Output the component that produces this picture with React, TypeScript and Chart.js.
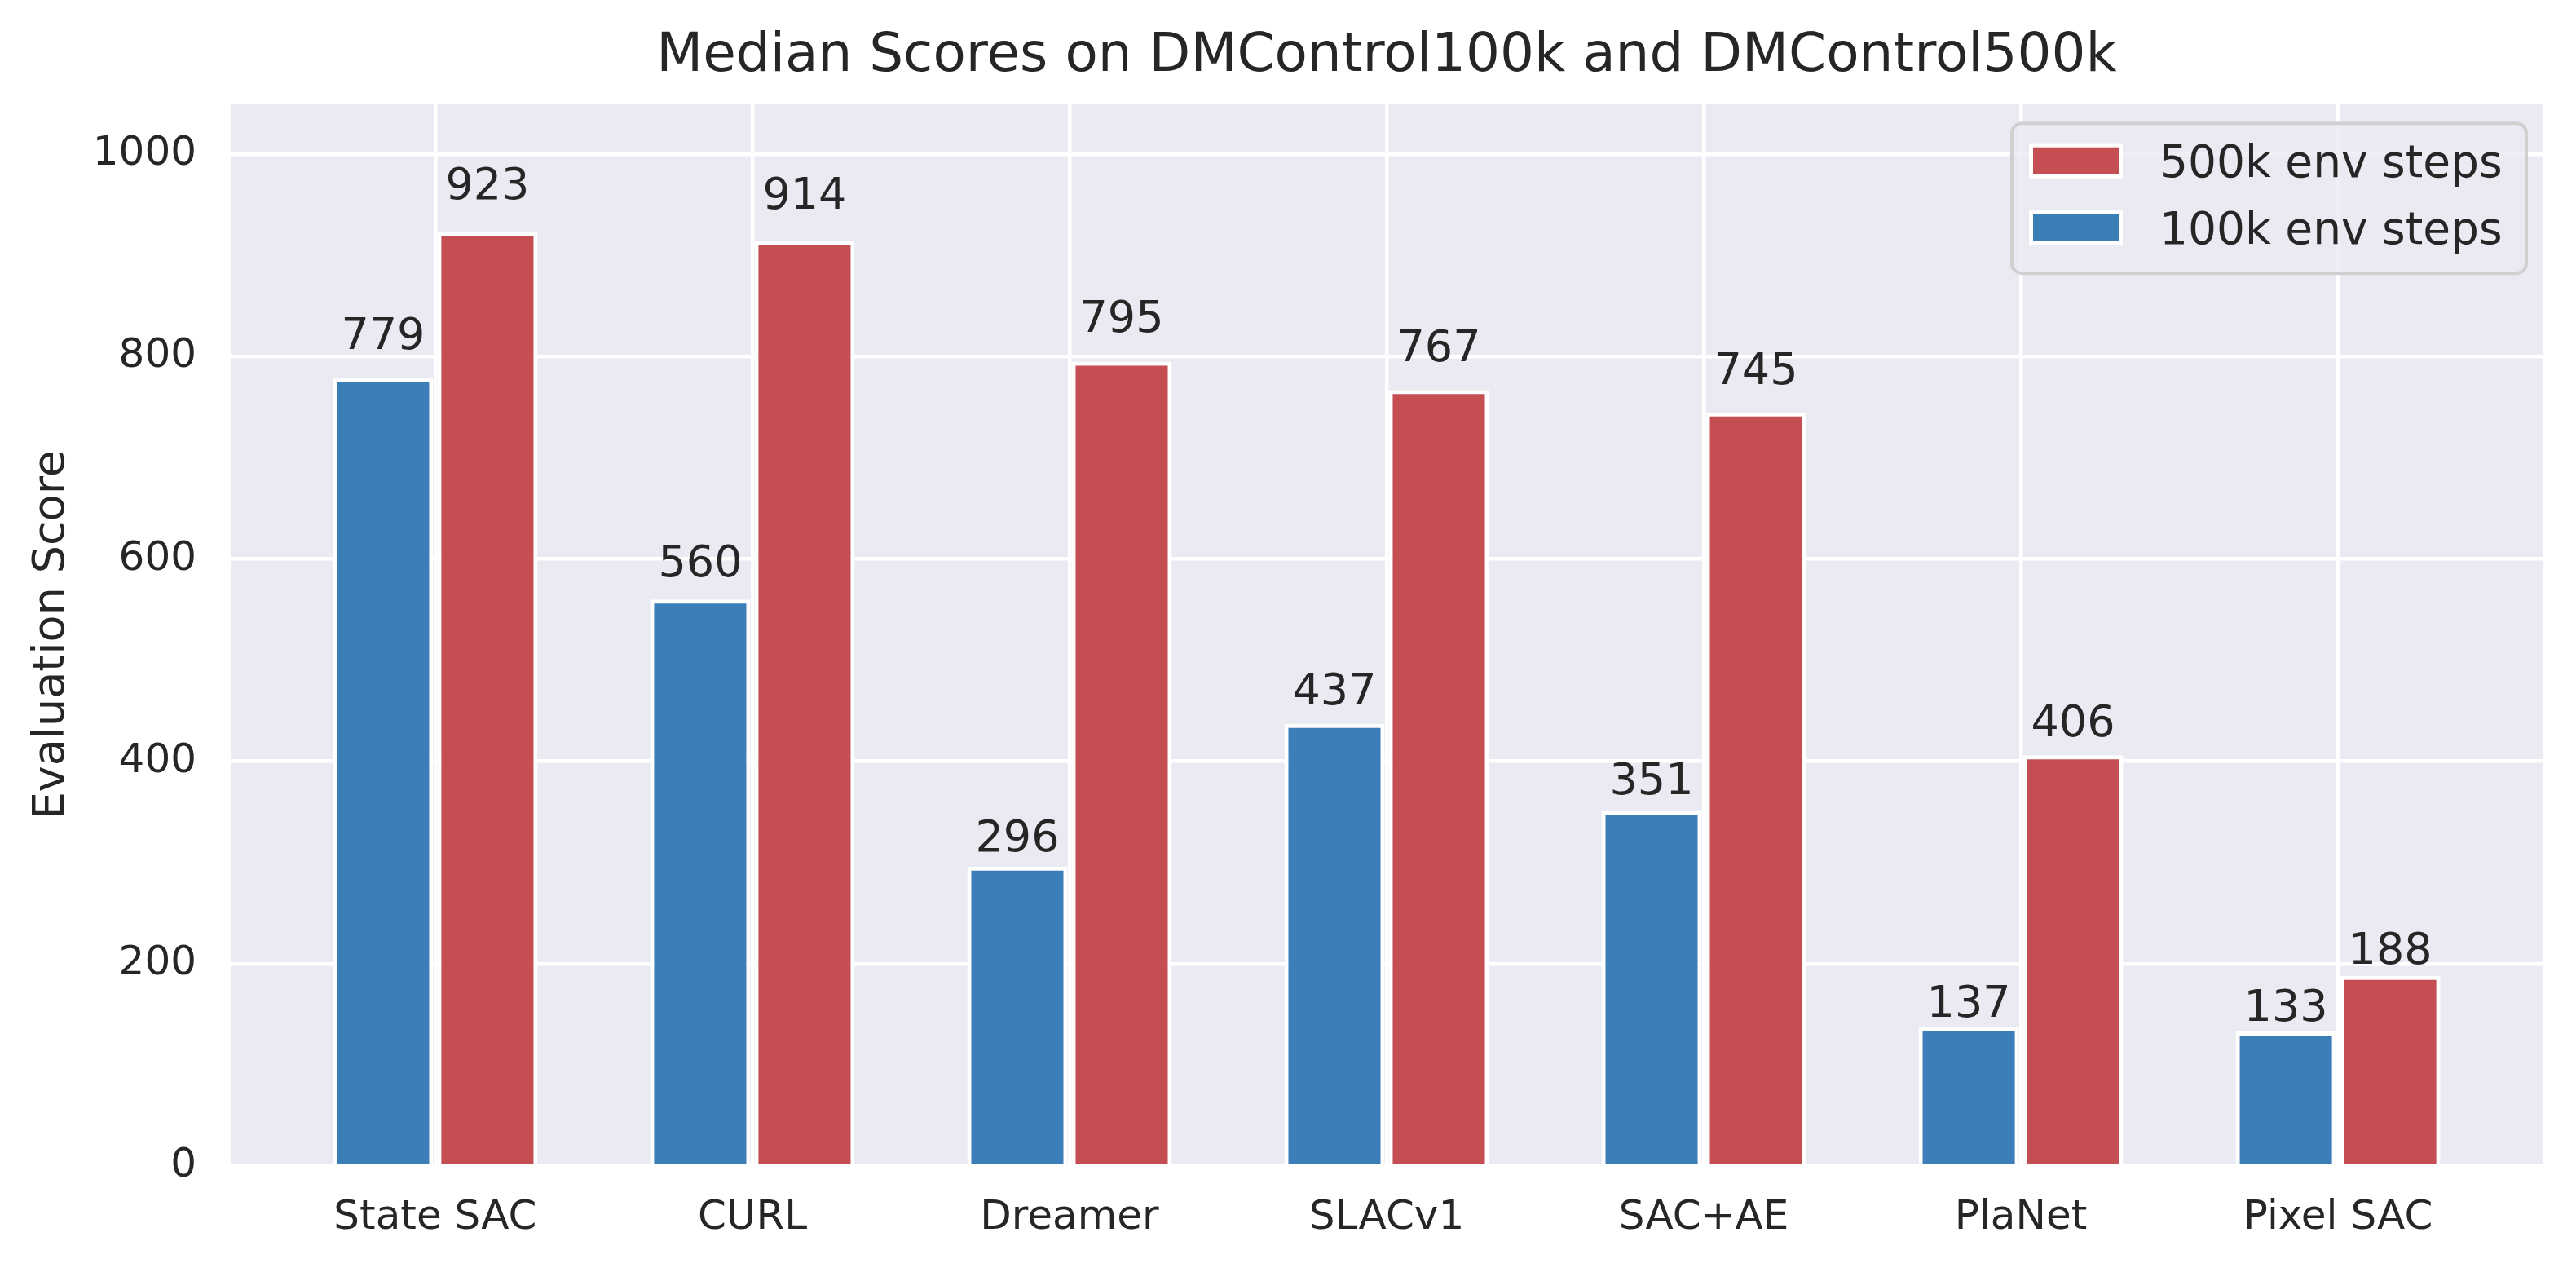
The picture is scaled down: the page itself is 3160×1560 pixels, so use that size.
import React, { useEffect, useRef } from 'react';
import { Chart, registerables } from 'chart.js';

Chart.register(...registerables);

const categories = ['State SAC', 'CURL', 'Dreamer', 'SLACv1', 'SAC+AE', 'PlaNet', 'Pixel SAC'];
const scores100k = [779, 560, 296, 437, 351, 137, 133];
const scores500k = [923, 914, 795, 767, 745, 406, 188];
const yTicks = [0, 200, 400, 600, 800, 1000];
const seriesLabels = ['100k env steps', '500k env steps'];

const TEXT = '#262626';
const BLUE = '#3c7eb8';
const RED = '#c44e52';
const PLOT_BG = '#eaeaf2';

// plot background (seaborn darkgrid)
const bgPlugin = {
  id: 'bgPlugin',
  beforeDraw(chart: any) {
    const { ctx, chartArea, width, height } = chart;
    ctx.save();
    ctx.fillStyle = '#ffffff';
    ctx.fillRect(0, 0, width, height);
    ctx.fillStyle = PLOT_BG;
    ctx.fillRect(chartArea.left, chartArea.top, chartArea.right - chartArea.left, chartArea.bottom - chartArea.top);
    ctx.restore();
  },
};

// numbers above each bar
const valueLabels = {
  id: 'valueLabels',
  afterDatasetsDraw(chart: any) {
    const { ctx } = chart;
    const yScale = chart.scales.y;
    ctx.save();
    ctx.font = '54px "DejaVu Sans"';
    ctx.fillStyle = TEXT;
    ctx.textAlign = 'center';
    ctx.textBaseline = 'alphabetic';
    chart.data.datasets.forEach((ds: any, di: number) => {
      const meta = chart.getDatasetMeta(di);
      meta.data.forEach((bar: any, i: number) => {
        const v = ds.data[i].y;
        ctx.fillText(String(v), bar.x, yScale.getPixelForValue(v * 1.028 + 7));
      });
    });
    ctx.restore();
  },
};

// legend box in the upper right corner, 500k first
const legendBox = {
  id: 'legendBox',
  afterDraw(chart: any) {
    const { ctx, chartArea } = chart;
    const w = 631;
    const h = 184;
    const right = chartArea.right - 20;
    const top = chartArea.top + 24;
    const left = right - w;
    ctx.save();
    ctx.beginPath();
    ctx.roundRect(left, top, w, h, 12);
    ctx.fillStyle = 'rgba(234,234,242,0.8)';
    ctx.fill();
    ctx.lineWidth = 4;
    ctx.strokeStyle = '#d0d0d0';
    ctx.stroke();
    const items = chart.data.datasets.slice().reverse();
    items.forEach((ds: any, k: number) => {
      const cy = top + 46 + k * 82;
      ctx.fillStyle = '#ffffff';
      ctx.fillRect(left + 21, cy - 21.5, 115, 43);
      ctx.fillStyle = ds.backgroundColor;
      ctx.fillRect(left + 26, cy - 16.5, 105, 33);
      ctx.fillStyle = TEXT;
      ctx.font = '55px "DejaVu Sans"';
      ctx.textAlign = 'left';
      ctx.textBaseline = 'alphabetic';
      ctx.fillText(ds.label, left + 181, cy + 20);
    });
    ctx.restore();
  },
};

export default function App() {
  const canvasRef = useRef<HTMLCanvasElement>(null);

  useEffect(() => {
    if (!canvasRef.current) return;
    Chart.defaults.font.family = '"DejaVu Sans", sans-serif';
    Chart.defaults.color = TEXT;

    const barStyle = {
      borderColor: '#ffffff',
      borderWidth: 5,
      categoryPercentage: 0.658,
      barPercentage: 0.961,
    };

    const chart = new Chart(canvasRef.current, {
      type: 'bar',
      data: {
        datasets: [
          {
            label: seriesLabels[0],
            data: scores100k.map((v, i) => ({ x: i, y: v })),
            backgroundColor: BLUE,
            ...barStyle,
          },
          {
            label: seriesLabels[1],
            data: scores500k.map((v, i) => ({ x: i, y: v })),
            backgroundColor: RED,
            ...barStyle,
          },
        ],
      } as any,
      options: {
        responsive: false,
        animation: false,
        devicePixelRatio: 1,
        layout: { padding: { left: 0, right: 41, top: 0, bottom: 0 } },
        plugins: {
          legend: { display: false },
          tooltip: { enabled: false },
          title: {
            display: true,
            fullSize: false,
            text: 'Median Scores on DMControl100k and DMControl500k',
            color: TEXT,
            font: { size: 66, weight: 'normal' },
            padding: { top: 30, bottom: 18 },
          },
        },
        scales: {
          x: {
            type: 'linear',
            min: -0.645,
            max: 6.645,
            offset: false,
            grid: { color: '#ffffff', lineWidth: 4.5, drawTicks: false, offset: false },
            border: { display: false },
            afterBuildTicks: (s: any) => {
              s.ticks = categories.map((_, i) => ({ value: i }));
            },
            afterFit: (s: any) => {
              s.height = 130;
            },
            ticks: {
              padding: 34,
              color: TEXT,
              font: { size: 50 },
              autoSkip: false,
              maxRotation: 0,
              callback: (v: any) => categories[v],
            },
          },
          y: {
            min: 0,
            max: 1050,
            grid: { color: '#ffffff', lineWidth: 4.5, drawTicks: false },
            border: { display: false },
            afterBuildTicks: (s: any) => {
              s.ticks = yTicks.map((v) => ({ value: v }));
            },
            afterFit: (s: any) => {
              s.width = 283;
            },
            ticks: {
              padding: 42,
              color: TEXT,
              font: { size: 50 },
              callback: (v: any) => String(v),
            },
            title: {
              display: true,
              text: 'Evaluation Score',
              color: TEXT,
              font: { size: 54 },
              padding: { top: 32, bottom: 0 },
            },
          },
        },
      } as any,
      plugins: [bgPlugin, valueLabels, legendBox],
    });

    return () => chart.destroy();
  }, []);

  return (
    <div style={{ position: 'absolute', left: 0, top: 0, width: 3160, height: 1560 }}>
      <canvas ref={canvasRef} width={3160} height={1560} style={{ display: 'block' }} />
    </div>
  );
}
